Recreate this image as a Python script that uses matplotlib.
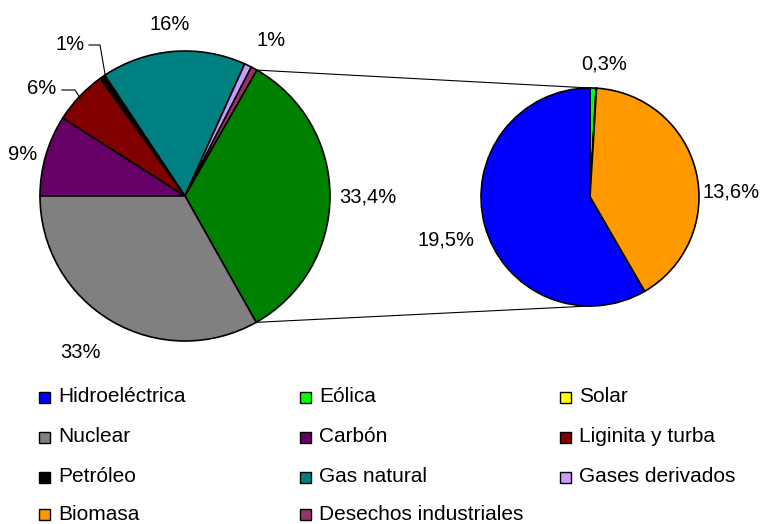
import numpy as np
import matplotlib.pyplot as plt
from matplotlib.patches import Rectangle

plt.rcParams['font.family'] = ['Liberation Sans', 'DejaVu Sans']

# main pie, clockwise from 9 o'clock
main_names = ['Carbón', 'Liginita y turba', 'Petróleo', 'Gas natural',
              'Gases derivados', 'Desechos industriales', 'Otras', 'Nuclear']
main_values = [9, 6, 0.6, 16, 0.8, 0.7, 33.4, 33]
main_labels = ['9%', '6%', '1%', '16%', '1%', '', '33,4%', '33%']
main_colors = ['#660066', '#800000', '#000000', '#008080',
               '#CC99FF', '#993366', '#008000', '#808080']

# secondary pie (breakdown of "Otras"), clockwise from 12 o'clock
sec_names = ['Eólica', 'Solar', 'Biomasa', 'Hidroeléctrica']
sec_values = [0.3, 0.02, 13.6, 19.5]
sec_labels = ['0,3%', '', '13,6%', '19,5%']
sec_colors = ['#00FF00', '#FFFF00', '#FF9900', '#0000FF']

legend_names = ['Hidroeléctrica', 'Eólica', 'Solar',
                'Nuclear', 'Carbón', 'Liginita y turba',
                'Petróleo', 'Gas natural', 'Gases derivados',
                'Biomasa', 'Desechos industriales']
legend_colors = ['#0000FF', '#00FF00', '#FFFF00',
                 '#808080', '#660066', '#800000',
                 '#000000', '#008080', '#CC99FF',
                 '#FF9900', '#993366']

W, H = 764, 524
fig = plt.figure(figsize=(7.64, 5.24), dpi=100)
ax = fig.add_axes([0, 0, 1, 1])

wp = dict(edgecolor='black', linewidth=1.2)
c1, r1 = (185, H - 196), 145
c2, r2 = (590, H - 197), 109

w1, _ = ax.pie(main_values, colors=main_colors, startangle=180,
               counterclock=False, center=c1, radius=r1,
               wedgeprops=wp, frame=True)
w2, _ = ax.pie(sec_values, colors=sec_colors, startangle=90,
               counterclock=False, center=c2, radius=r2,
               wedgeprops=wp, frame=True)
ax.set_xlim(0, W)
ax.set_ylim(0, H)
ax.set_aspect('equal')
ax.axis('off')

# connector lines from the "Otras" wedge to the secondary pie
other = w1[main_names.index('Otras')]
for ang, yy in [(other.theta2, c2[1] + r2), (other.theta1, c2[1] - r2)]:
    a = np.deg2rad(ang)
    ax.plot([c1[0] + r1 * np.cos(a), c2[0]],
            [c1[1] + r1 * np.sin(a), yy], color='black', lw=0.8)

fs = 14.5
main_pos = [(23, 155), (42, 89), (70, 44), (170, 25), (271, 40), None,
            (368, 197), (80, 352)]
for lab, pos in zip(main_labels, main_pos):
    if pos and lab:
        ax.text(pos[0], H - pos[1], lab, fontsize=fs, ha='center', va='center')
sec_pos = [(604, 64), None, (731, 192), (446, 240)]
for lab, pos in zip(sec_labels, sec_pos):
    if pos and lab:
        ax.text(pos[0], H - pos[1], lab, fontsize=fs, ha='center', va='center')

# leader lines for small labels
ax.plot([89, 100, 105], [H - 45, H - 45, H - 74], color='black', lw=0.8)
ax.plot([62, 75, 80], [H - 90, H - 90, H - 98], color='black', lw=0.8)

# legend
col_x = [44, 305, 565]
row_y = [397, 437, 477, 514]
for i, (name, col) in enumerate(zip(legend_names, legend_colors)):
    x = col_x[i % 3]
    y = H - row_y[i // 3]
    ax.add_patch(Rectangle((x - 5.5, y - 5.5), 11, 11, facecolor=col,
                           edgecolor='black', lw=1))
    ax.text(x + 14, y, name, fontsize=15, ha='left', va='center')

fig.savefig('out.png', dpi=100)
